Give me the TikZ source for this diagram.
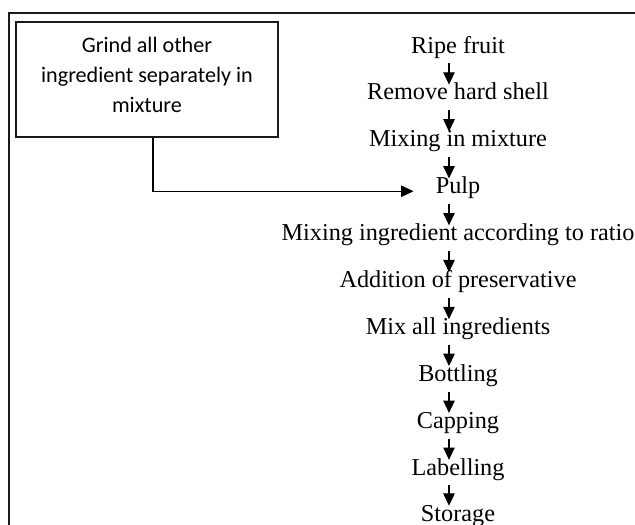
\documentclass[tikz,border=0pt]{standalone}
\usepackage{fontspec}
\setmainfont{Liberation Serif}
\newfontfamily\boxfont{Carlito}
\usepackage{tikz}
\usetikzlibrary{arrows.meta, positioning, calc}
\definecolor{Ink}{HTML}{000000}
\definecolor{Frame}{HTML}{1A1A1A}

\begin{document}
\begin{tikzpicture}[
  x=0.02cm, y=-0.02cm,
  font=\fontsize{13.8}{16}\selectfont,
  stepnode/.style={inner sep=0pt, anchor=base, text height=8.5pt, text depth=5.7pt},
  grindbox/.style={draw=Frame, line width=1.1pt, align=center, minimum width=5.24cm, minimum height=2.3cm, inner sep=2pt, font=\boxfont\fontsize{12.6}{17}\selectfont},
  arrow/.style={-{Triangle[length=7pt, width=6.5pt]}, line width=0.6pt, draw=Ink}
]
\useasboundingbox (0,0) rectangle (635,524);
\fill[white] (0,0) rectangle (635,524);
\clip (0,0) rectangle (635,524);
\draw[Frame, line width=1.1pt, line join=miter] (9,540) -- (9,13) -- (650,13);

\node[grindbox] (grind) at (147,79.5) {Grind all other\\ingredient separately in\\mixture\\[-12pt]};

\coordinate (spine) at (449,0);
\coordinate (bend) at (153,0);

\node[stepnode] (ripe) at (458,53) {Ripe fruit};
\node[stepnode] (shell) at (458,99.9) {Remove hard shell};
\node[stepnode] (mixing) at (458,146.8) {Mixing in mixture};
\node[stepnode] (pulp) at (458,193.7) {Pulp};
\node[stepnode] (ratio) at (458,240.6) {Mixing ingredient according to ratio};
\node[stepnode] (preserv) at (458,287.5) {Addition of preservative};
\node[stepnode] (mixall) at (458,334.4) {Mix all ingredients};
\node[stepnode] (bottling) at (458,381.3) {Bottling};
\node[stepnode] (capping) at (458,428.2) {Capping};
\node[stepnode] (labelling) at (458,475.1) {Labelling};
\node[stepnode] (storage) at (458,521) {Storage};

\draw[arrow] (ripe.south -| spine) -- (shell.north -| spine);
\draw[arrow] (shell.south -| spine) -- (mixing.north -| spine);
\draw[arrow] (mixing.south -| spine) -- (pulp.north -| spine);
\draw[arrow] (pulp.south -| spine) -- (ratio.north -| spine);
\draw[arrow] (ratio.south -| spine) -- (preserv.north -| spine);
\draw[arrow] (preserv.south -| spine) -- (mixall.north -| spine);
\draw[arrow] (mixall.south -| spine) -- (bottling.north -| spine);
\draw[arrow] (bottling.south -| spine) -- (capping.north -| spine);
\draw[arrow] (capping.south -| spine) -- (labelling.north -| spine);
\draw[arrow] (labelling.south -| spine) -- (storage.north -| spine);
\draw[arrow, shorten >=12.5pt] (grind.south -| bend) |- (pulp.west);
\end{tikzpicture}
\end{document}
